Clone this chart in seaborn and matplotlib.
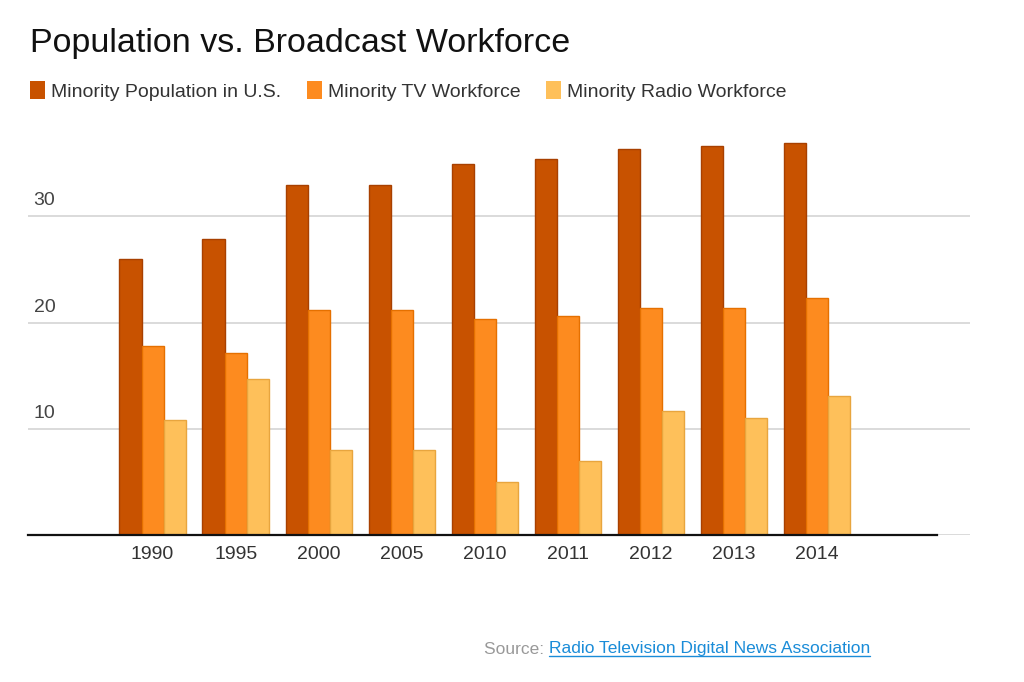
import matplotlib
matplotlib.use("Agg")
import matplotlib.pyplot as plt
from matplotlib.transforms import ScaledTranslation
import seaborn as sns
import pandas as pd

years = ["1990", "1995", "2000", "2005", "2010", "2011", "2012", "2013", "2014"]
series = ["Minority Population in U.S.", "Minority TV Workforce", "Minority Radio Workforce"]
population = [26.0, 27.9, 32.9, 32.9, 34.9, 35.4, 36.3, 36.6, 36.9]
tv = [17.8, 17.1, 21.2, 21.2, 20.3, 20.6, 21.4, 21.4, 22.3]
radio = [10.8, 14.7, 8.0, 8.0, 5.0, 7.0, 11.7, 11.0, 13.1]
ytick_values = [0, 10, 20, 30]
ytick_labels = ["", "10", "20", "30"]

fills = ["#C85200", "#FD8B1F", "#FEC05A"]
edges = ["#A84000", "#E57000", "#E8A53E"]

rows = []
for name, vals in zip(series, [population, tv, radio]):
    for y, v in zip(years, vals):
        rows.append({"year": y, "series": name, "value": v})
df = pd.DataFrame(rows)

sns.set_theme(style="white")
plt.rcParams["font.family"] = ["Liberation Sans", "DejaVu Sans"]

fig = plt.figure(figsize=(10.24, 6.82), dpi=100)
ax = fig.add_axes([28 / 1024, 1 - 535 / 682, (970 - 28) / 1024, (535 - 110) / 682])

sns.barplot(data=df, x="year", y="value", hue="series", order=years,
            hue_order=series, palette=fills, width=0.8, ax=ax, legend=False,
            saturation=1, errorbar=None)

for cont, ec in zip(ax.containers, edges):
    for bar in cont:
        bar.set_edgecolor(ec)
        bar.set_linewidth(1.0)

ax.set_xlim(-1.5, 9.84)
ax.set_ylim(0, 40)
ax.set_xlabel("")
ax.set_ylabel("")

ax.set_yticks(ytick_values)
ax.set_yticklabels(ytick_labels)
ax.yaxis.grid(True, color="#d8d8d8", linewidth=1.3)
ax.set_axisbelow(True)
ax.tick_params(axis="y", length=0, pad=-4, labelsize=14, labelcolor="#444444")
for lab in ax.get_yticklabels():
    lab.set_horizontalalignment("left")
    lab.set_verticalalignment("bottom")
    lab.set_transform(lab.get_transform() + ScaledTranslation(0, 5 / 72, fig.dpi_scale_trans))
ax.tick_params(axis="x", length=0, pad=8, labelsize=14, labelcolor="#333333")

for s in ["top", "right", "left"]:
    ax.spines[s].set_visible(False)
ax.spines["bottom"].set_color("#111111")
ax.spines["bottom"].set_linewidth(1.6)
ax.spines["bottom"].set_bounds(-1.5, 9.44)
ax.spines["bottom"].set_zorder(3)

fig.text(30 / 1024, 1 - 52 / 682, "Population vs. Broadcast Workforce",
         fontsize=24.5, color="#111111", va="baseline", ha="left")

handles = [plt.Rectangle((0, 0), 1, 1, facecolor=f, edgecolor="none") for f in fills]
leg = fig.legend(handles, series, loc="center left",
                 bbox_to_anchor=(22 / 1024, 1 - 91 / 682), ncol=3, frameon=False,
                 fontsize=14, handlelength=0.8, handleheight=1.0,
                 handletextpad=0.3, columnspacing=1.3, borderaxespad=0)
for t in leg.get_texts():
    t.set_color("#333333")

src_y = 1 - 649 / 682
t1 = fig.text(484 / 1024, src_y, "Source: ", fontsize=12.5, color="#999999",
              va="center", ha="left")
fig.canvas.draw()
bb = t1.get_window_extent()
t2 = fig.text(bb.x1 / 1024, src_y, "Radio Television Digital News Association",
              fontsize=12.5, color="#1A8CD8", va="center", ha="left")
fig.canvas.draw()
bb2 = t2.get_window_extent()
fig.add_artist(plt.Line2D([bb2.x0 / 1024, bb2.x1 / 1024],
                          [(bb2.y0 + 1) / 682, (bb2.y0 + 1) / 682],
                          transform=fig.transFigure, color="#1A8CD8", linewidth=1))

fig.savefig("out.png", dpi=100)
